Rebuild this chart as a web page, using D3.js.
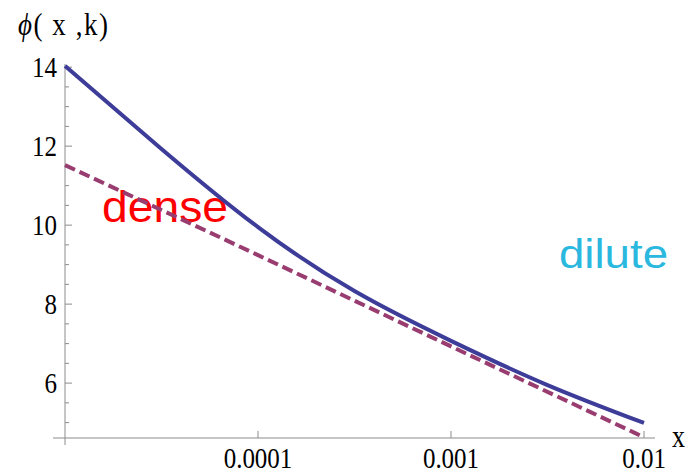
<!DOCTYPE html>
<html>
<head>
<meta charset="utf-8">
<script src="https://cdn.jsdelivr.net/npm/d3@7"></script>
<style>
  body { margin: 0; background: #fff; }
  svg { display: block; }
</style>
</head>
<body>
<div id="chart"></div>
<script>
// data
var solidX = [1e-5, 3.162e-5, 1e-4, 3.162e-4, 1e-3, 3.162e-3, 1e-2];
var solidY = [14.03, 11.93, 9.95, 8.33, 7.07, 5.95, 4.99];
var dashedX = [1e-5, 1e-4, 1e-3, 1e-2];
var dashedY = [11.52, 9.24, 6.93, 4.63];
var xTicks = [1e-5, 1e-4, 1e-3, 1e-2];
var xTickLabels = ["", "0.0001", "0.001", "0.01"];
var yTicks = [6, 8, 10, 12, 14];

var param = {
  width: 690,
  height: 474,
  axisColor: "#8c8c8c",
  serif: "'Liberation Serif', 'Times New Roman', serif",
  sans: "'Liberation Sans', Arial, sans-serif",
  stretch: 1.18
};

var x = d3.scaleLog().domain([1e-5, 1e-2]).range([65, 644]);
var y = d3.scaleLinear().domain([4.61, 14.08]).range([438, 64]);

var svg = d3.select("#chart").append("svg")
  .attr("width", param.width)
  .attr("height", param.height);

// axes
var x0 = x(1e-5);
var yBase = y(4.61);

svg.append("line")
  .attr("x1", 53).attr("x2", 655)
  .attr("y1", yBase).attr("y2", yBase)
  .style("stroke", param.axisColor).style("stroke-width", 1);

svg.append("line")
  .attr("x1", x0).attr("x2", x0)
  .attr("y1", y(14.08)).attr("y2", yBase + 7)
  .style("stroke", param.axisColor).style("stroke-width", 1);

// y minor + major ticks
var yMinor = d3.range(5, 14.01, 0.5);
svg.selectAll(".ytick")
  .data(yMinor)
  .enter().append("line")
  .attr("class", "ytick")
  .attr("x1", x0)
  .attr("x2", function(d) { return x0 + (d % 2 === 0 ? 7 : 4); })
  .attr("y1", function(d) { return y(d); })
  .attr("y2", function(d) { return y(d); })
  .style("stroke", param.axisColor).style("stroke-width", 1);

svg.selectAll(".ylabel")
  .data(yTicks)
  .enter().append("text")
  .attr("class", "ylabel")
  .attr("transform", function(d) { return "translate(57," + (y(d) + 10) + ") scale(1," + param.stretch + ")"; })
  .attr("text-anchor", "end")
  .style("font-family", param.serif)
  .style("font-size", "25px")
  .text(function(d) { return d; });

// x ticks
svg.selectAll(".xtick")
  .data(xTicks.slice(1))
  .enter().append("line")
  .attr("class", "xtick")
  .attr("x1", function(d) { return x(d); })
  .attr("x2", function(d) { return x(d); })
  .attr("y1", yBase)
  .attr("y2", yBase - 7)
  .style("stroke", param.axisColor).style("stroke-width", 1);

svg.selectAll(".xlabel")
  .data(xTicks)
  .enter().append("text")
  .attr("class", "xlabel")
  .attr("transform", function(d) { return "translate(" + x(d) + ",468) scale(1," + param.stretch + ")"; })
  .attr("text-anchor", "middle")
  .style("font-family", param.serif)
  .style("font-size", "25px")
  .text(function(d, i) { return xTickLabels[i]; });

// axis titles
svg.append("text")
  .attr("transform", "translate(672,447) scale(1," + param.stretch + ")")
  .style("font-family", param.serif)
  .style("font-size", "26px")
  .text("x");

var title = svg.append("text")
  .attr("transform", "translate(18,35) scale(1," + param.stretch + ")")
  .attr("textLength", 90)
  .attr("lengthAdjust", "spacing")
  .style("font-family", param.serif)
  .style("font-size", "27px");
title.append("tspan").style("font-style", "italic").text("ϕ");
title.append("tspan").text("( x ,k)");

// annotations (under the curves)
svg.append("text")
  .attr("x", 102).attr("y", 222)
  .attr("textLength", 126)
  .attr("lengthAdjust", "spacingAndGlyphs")
  .style("font-family", param.sans)
  .style("font-size", "45px")
  .style("fill", "#ff0000")
  .text("dense");

svg.append("text")
  .attr("x", 559).attr("y", 268)
  .attr("textLength", 109)
  .attr("lengthAdjust", "spacingAndGlyphs")
  .style("font-family", param.sans)
  .style("font-size", "41px")
  .style("fill", "#2bb8df")
  .text("dilute");

// curves
var line = d3.line()
  .x(function(d) { return x(d[0]); })
  .y(function(d) { return y(d[1]); })
  .curve(d3.curveNatural);

svg.append("path")
  .datum(dashedX.map(function(v, i) { return [v, dashedY[i]]; }))
  .attr("d", line)
  .style("fill", "none")
  .style("stroke", "#993d71")
  .style("stroke-width", 4)
  .style("stroke-dasharray", "11,5");

svg.append("path")
  .datum(solidX.map(function(v, i) { return [v, solidY[i]]; }))
  .attr("d", line)
  .style("fill", "none")
  .style("stroke", "#3d3d99")
  .style("stroke-width", 4);
</script>
</body>
</html>
